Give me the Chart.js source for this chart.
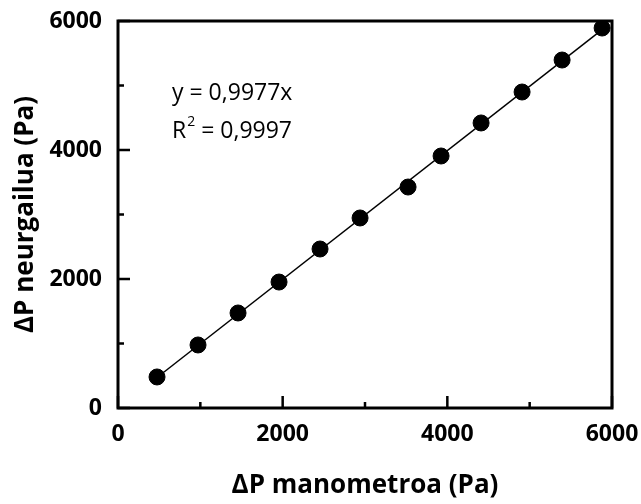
<!DOCTYPE html>
<html>
<head>
<meta charset="utf-8">
<script src="https://cdn.jsdelivr.net/npm/chart.js@4.4.1/dist/chart.umd.min.js"></script>
<style>
  html, body { margin: 0; padding: 0; background: #fff; }
  #wrap { width: 641px; height: 504px; }
</style>
</head>
<body>
<div id="wrap"><canvas id="chart" width="641" height="504"></canvas></div>
<script>
// measured points (Pa)
const manometer = [474, 972, 1458, 1956, 2454, 2940, 3523, 3924, 4410, 4908, 5394, 5880];
const sensor = [481, 977, 1473, 1953, 2465, 2946, 3426, 3907, 4419, 4899, 5395, 5891];

// trendline y = 0,9977x, drawn from first to last point
const trendX = [474, 5880];
const trendY = [473, 5866];

const majorTicks = [0, 2000, 4000, 6000];
const minorTicks = [1000, 3000, 5000];

const equationLines = ['y = 0,9977x', 'R', ' = 0,9997'];

const fontFamily = '"Open Sans", "DejaVu Sans", sans-serif';

// box + inward ticks + equation text
const framePlugin = {
    id: 'frame',
    afterDraw(chart) {
        const ctx = chart.ctx;
        const area = chart.chartArea;
        const x = chart.scales.x;
        const y = chart.scales.y;
        ctx.save();
        ctx.strokeStyle = '#000';
        ctx.lineWidth = 3;
        ctx.strokeRect(area.left, area.top, area.right - area.left, area.bottom - area.top);

        ctx.lineWidth = 2.5;
        ctx.beginPath();
        majorTicks.forEach(v => {
            const px = x.getPixelForValue(v);
            ctx.moveTo(px, area.bottom);
            ctx.lineTo(px, area.bottom - 12);
            const py = y.getPixelForValue(v);
            ctx.moveTo(area.left, py);
            ctx.lineTo(area.left + 12, py);
        });
        minorTicks.forEach(v => {
            const px = x.getPixelForValue(v);
            ctx.moveTo(px, area.bottom);
            ctx.lineTo(px, area.bottom - 6);
            const py = y.getPixelForValue(v);
            ctx.moveTo(area.left, py);
            ctx.lineTo(area.left + 6, py);
        });
        ctx.stroke();

        // equation
        ctx.fillStyle = '#000';
        ctx.textBaseline = 'middle';
        ctx.textAlign = 'left';
        ctx.font = '23px ' + fontFamily;
        ctx.fillText(equationLines[0], 172, 93);
        ctx.fillText(equationLines[1], 172, 131);
        const rw = ctx.measureText(equationLines[1]).width;
        ctx.font = '14px ' + fontFamily;
        ctx.fillText('2', 172 + rw + 1, 122);
        const sw = ctx.measureText('2').width;
        ctx.font = '23px ' + fontFamily;
        ctx.fillText(equationLines[2], 172 + rw + 1 + sw, 131);
        ctx.restore();
    }
};

const points = manometer.map((v, i) => ({ x: v, y: sensor[i] }));
const trend = trendX.map((v, i) => ({ x: v, y: trendY[i] }));

new Chart(document.getElementById('chart'), {
    type: 'scatter',
    data: {
        datasets: [
            {
                label: 'trend',
                data: trend,
                showLine: true,
                borderColor: '#000',
                borderWidth: 1.5,
                pointRadius: 0,
                order: 2
            },
            {
                label: 'ΔP',
                data: points,
                backgroundColor: '#000',
                borderColor: '#000',
                pointRadius: 8,
                order: 1
            }
        ]
    },
    options: {
        responsive: false,
        animation: false,
        layout: { padding: { left: 0, right: 29, top: 21, bottom: 0 } },
        plugins: {
            legend: { display: false },
            tooltip: { enabled: false }
        },
        scales: {
            x: {
                type: 'linear',
                min: 0,
                max: 6000,
                afterFit(scale) {
                    scale.height = 96;
                    scale.paddingLeft = 0;
                    scale.paddingRight = 0;
                },
                afterBuildTicks(scale) { scale.ticks = majorTicks.map(v => ({ value: v })); },
                grid: { display: false, drawTicks: false },
                border: { display: false },
                ticks: {
                    color: '#000',
                    padding: 13,
                    maxRotation: 0,
                    callback: v => String(v),
                    font: { family: fontFamily, size: 23, weight: 'bold' }
                },
                title: {
                    display: true,
                    text: 'ΔP manometroa (Pa)',
                    color: '#000',
                    padding: { top: 0, bottom: 3 },
                    font: { family: fontFamily, size: 26, weight: 'bold' }
                }
            },
            y: {
                type: 'linear',
                min: 0,
                max: 6000,
                afterFit(scale) {
                    scale.width = 118;
                    scale.paddingTop = 0;
                    scale.paddingBottom = 0;
                },
                afterBuildTicks(scale) { scale.ticks = majorTicks.map(v => ({ value: v })); },
                grid: { display: false, drawTicks: false },
                border: { display: false },
                ticks: {
                    color: '#000',
                    padding: 16,
                    callback: v => String(v),
                    font: { family: fontFamily, size: 23, weight: 'bold' }
                },
                title: {
                    display: true,
                    text: 'ΔP neurgailua (Pa)',
                    color: '#000',
                    padding: { top: 10, bottom: 0 },
                    font: { family: fontFamily, size: 26, weight: 'bold' }
                }
            }
        }
    },
    plugins: [framePlugin]
});
</script>
</body>
</html>
